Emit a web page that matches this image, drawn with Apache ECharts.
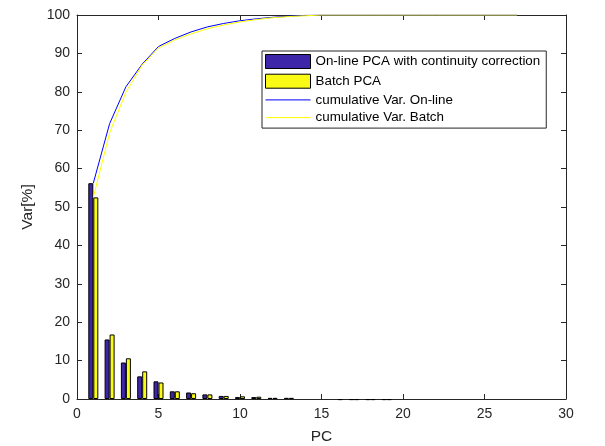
<!DOCTYPE html>
<head>
    <meta charset="utf-8">
    <title>PCA variance</title>
    <script src="https://cdn.jsdelivr.net/npm/echarts@6/dist/echarts.min.js"></script>
    <style>body{margin:0;background:#fff;}</style>
</head>
<body>
<div id="main" style="width:605px;height:446px"></div>
<script type="text/javascript">
    // principal components
    var pcs = [1,2,3,4,5,6,7,8,9,10,11,12,13,14,15,16,17,18,19,20,21,22,23,24,25,26,27];
    // variance per PC (%), null = nothing visible
    var onlineVar = [56.2,15.5,9.5,5.9,4.6,2.0,1.7,1.2,0.8,0.5,0.5,0.3,0.3,null,null,null,-0.3,-0.3,-0.3,null,null,null,null,null,null,null,null];
    var batchVar  = [52.5,16.8,10.6,7.2,4.3,2.0,1.5,1.2,0.8,0.7,0.6,0.3,0.3,null,null,-0.3,-0.3,-0.3,-0.3,null,null,null,null,null,null,null,null];
    // cumulative variance (%)
    var onlineCum = [56.2,71.7,81.3,87.2,91.8,93.9,95.6,96.9,97.8,98.5,99.0,99.4,99.7,99.9,100,100,100,100,100,100,100,100,100,100,100,100,100];
    var batchCum  = [52.5,69.3,79.9,87.0,91.4,93.5,95.1,96.4,97.4,98.2,98.8,99.3,99.6,99.8,100,100,100,100,100,100,100,100,100,100,100,100,100];

    var axisColor = '#262626';
    var font = 'Liberation Sans, Arial, sans-serif';

    function pairs(ys){
        return pcs.map(function(x, i){ return [x, ys[i]]; });
    }

    // ticks point into the plot, like the box axes
    function tick(){
        return {show: true, inside: true, length: 5, lineStyle: {color: axisColor}};
    }

    var myChart = echarts.init(document.getElementById('main'));
    var option = {
        animation: false,
        backgroundColor: '#fff',
        textStyle: {fontFamily: font, color: axisColor},
        grid: {left: 77, right: 39, top: 15, bottom: 47, outerBoundsMode: 'none', containLabel: false},
        legend: {
            orient: 'vertical',
            left: 262, top: 51,
            padding: [3, 6, 4, 3],
            itemWidth: 45, itemHeight: 14, itemGap: 4.7,
            borderColor: axisColor, borderWidth: 1,
            backgroundColor: '#fff',
            textStyle: {fontSize: 13.4, color: '#000', fontFamily: font},
            data: [
                {name: 'On-line PCA with continuity correction', icon: 'rect',
                    itemStyle: {borderWidth: 1, borderColor: '#000'}},
                {name: 'Batch PCA', icon: 'rect',
                    itemStyle: {borderWidth: 1, borderColor: '#000'}},
                {name: 'cumulative Var. On-line', lineStyle: {width: 1},
                    itemStyle: {color: 'rgba(0,0,0,0)', borderWidth: 0, opacity: 0}},
                {name: 'cumulative Var. Batch', lineStyle: {width: 1},
                    itemStyle: {color: 'rgba(0,0,0,0)', borderWidth: 0, opacity: 0}}
            ]
        },
        xAxis: [{
            type: 'value', min: 0, max: 30, interval: 5,
            name: 'PC', nameLocation: 'middle', nameGap: 30,
            nameTextStyle: {fontSize: 15.5, color: axisColor},
            axisLine: {onZero: false, lineStyle: {color: axisColor}},
            axisTick: tick(),
            axisLabel: {fontSize: 14, color: axisColor, margin: 8},
            splitLine: {show: false}
        }, {
            type: 'value', min: 0, max: 30, interval: 5, position: 'top',
            axisLine: {onZero: false, lineStyle: {color: axisColor}},
            axisTick: tick(),
            axisLabel: {show: false},
            splitLine: {show: false}
        }],
        yAxis: [{
            type: 'value', min: 0, max: 100, interval: 10,
            name: 'Var[%]', nameLocation: 'middle', nameGap: 38,
            nameTextStyle: {fontSize: 15.5, color: axisColor},
            axisLine: {show: true, onZero: false, lineStyle: {color: axisColor}},
            axisTick: tick(),
            axisLabel: {fontSize: 14, color: axisColor, margin: 7},
            splitLine: {show: false}
        }, {
            type: 'value', min: 0, max: 100, interval: 10, position: 'right',
            axisLine: {show: true, onZero: false, lineStyle: {color: axisColor}},
            axisTick: tick(),
            axisLabel: {show: false},
            splitLine: {show: false}
        }],
        series: [{
            name: 'On-line PCA with continuity correction',
            type: 'bar', barWidth: 5, barGap: '0%', clip: false,
            itemStyle: {color: '#3E26A8', borderColor: '#000', borderWidth: 1},
            data: pairs(onlineVar)
        }, {
            name: 'Batch PCA',
            type: 'bar', barWidth: 5, barGap: '0%', clip: false,
            itemStyle: {color: '#F9FB15', borderColor: '#000', borderWidth: 1},
            data: pairs(batchVar)
        }, {
            name: 'cumulative Var. On-line',
            type: 'line', symbol: 'none', z: 3,
            lineStyle: {color: '#0000FF', width: 1},
            itemStyle: {color: '#0000FF'},
            data: pairs(onlineCum)
        }, {
            name: 'cumulative Var. Batch',
            type: 'line', symbol: 'none', z: 3,
            lineStyle: {color: '#FFFF00', width: 1},
            itemStyle: {color: '#FFFF00'},
            data: pairs(batchCum)
        }]
    };
    myChart.setOption(option);
</script>
</body>
